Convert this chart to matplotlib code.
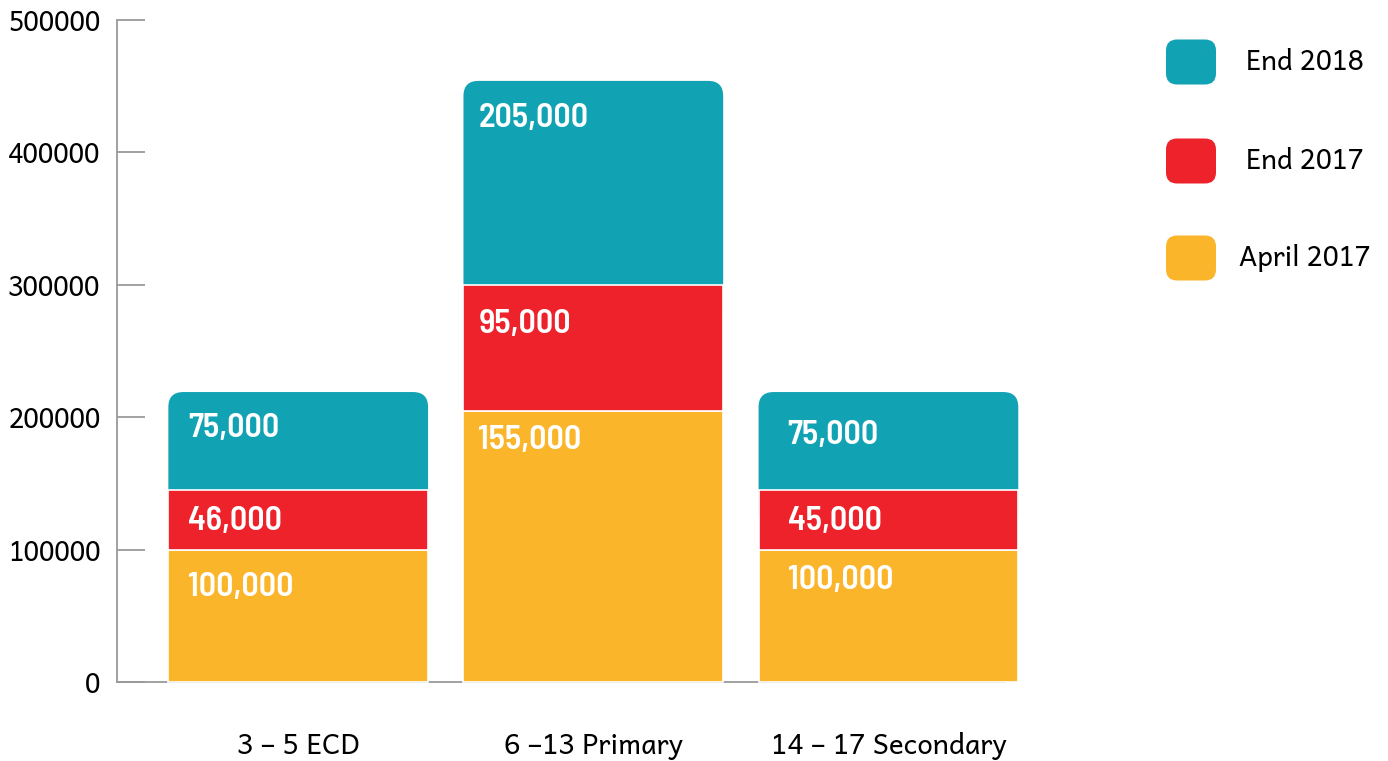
import matplotlib
matplotlib.use("Agg")
import matplotlib.pyplot as plt
from matplotlib.patches import FancyBboxPatch
import matplotlib.transforms as mtransforms

# ---- data ----
categories = ["3 \u2013 5 ECD", "6 \u201313 Primary", "14 \u2013 17 Secondary"]
series_names = ["April 2017", "End 2017", "End 2018"]
april_2017 = [100000, 205000, 100000]
end_2017 = [45000, 95000, 45000]
end_2018 = [74000, 154000, 74000]
april_labels = ["100,000", "155,000", "100,000"]
end2017_labels = ["46,000", "95,000", "45,000"]
end2018_labels = ["75,000", "205,000", "75,000"]
y_ticks = [0, 100000, 200000, 300000, 400000, 500000]

colors = {"April 2017": "#FBB52B", "End 2017": "#EE222A", "End 2018": "#11A3B4"}

TEXT_FONT = ["Andika", "Lato", "DejaVu Sans"]
NUM_FONT = ["Barlow Semi Condensed", "Barlow Condensed", "Oswald", "DejaVu Sans"]

W, H, DPI = 1388, 761, 100
fig = plt.figure(figsize=(W / DPI, H / DPI), dpi=DPI)
ax = fig.add_axes([117 / W, 79 / H, 888 / W, 662 / H])

x = [0, 1, 2]
bw = 0.88
ax.set_xlim(-0.614, 2.395)
ax.set_ylim(0, 500000)

# lower segments
bottoms = [0, 0, 0]
for vals, name in [(april_2017, "April 2017"), (end_2017, "End 2017")]:
    ax.bar(x, vals, bw, bottom=bottoms, color=colors[name], edgecolor="white",
           linewidth=1.2, zorder=3, clip_on=False)
    bottoms = [b + v for b, v in zip(bottoms, vals)]

# top segment with rounded upper corners
px_x = 295.0           # pixels per x unit
px_y = 662.0 / 500000  # pixels per y unit
r_px = 15
r_x = r_px / px_x
aspect = (1 / px_y) / (1 / px_x)
ext = 30000
for xi, b, v in zip(x, bottoms, end_2018):
    p = FancyBboxPatch((xi - bw / 2, b - ext), bw, v + ext,
                       boxstyle=f"round,pad=0,rounding_size={r_x}",
                       mutation_aspect=aspect,
                       facecolor=colors["End 2018"], edgecolor="none",
                       zorder=2, clip_on=False)
    ax.add_patch(p)

# labels
label_font = dict(family=NUM_FONT, fontweight="semibold",
                  fontsize=24.5, color="white", va="center", ha="left", zorder=5)
x_off = [20, 15, 29]
offs = {
    "April 2017": [-38, -30, -31],
    "End 2017": [-31, -40, -31],
    "End 2018": [-36, -38, -43],
}
tops_april = april_2017
tops_2017 = [a + b for a, b in zip(april_2017, end_2017)]
tops_2018 = [a + b for a, b in zip(tops_2017, end_2018)]
for name, tops, labs in [("April 2017", tops_april, april_labels),
                         ("End 2017", tops_2017, end2017_labels),
                         ("End 2018", tops_2018, end2018_labels)]:
    for i, (t, lab) in enumerate(zip(tops, labs)):
        tr = mtransforms.offset_copy(ax.transData, fig=fig, x=x_off[i], y=offs[name][i],
                                     units="dots")
        ax.text(x[i] - bw / 2, t, lab, transform=tr, **label_font)

# axes styling
for s in ["top", "right"]:
    ax.spines[s].set_visible(False)
for s in ["left", "bottom"]:
    ax.spines[s].set_color("#9a9a9a")
    ax.spines[s].set_linewidth(1.3)
ax.set_yticks(y_ticks)
ax.set_yticklabels([str(v) for v in y_ticks], fontsize=19, family=TEXT_FONT)
ax.tick_params(axis="y", direction="in", length=28 * 72 / DPI, width=1.3,
               color="#9a9a9a", pad=12)
ax.set_xticks(x)
ax.set_xticklabels(categories, fontsize=20, family=TEXT_FONT)
ax.tick_params(axis="x", length=0, pad=36)
ax.set_facecolor("none")

# legend
lax = fig.add_axes([0, 0, 1, 1])
lax.set_xlim(0, W)
lax.set_ylim(H, 0)
lax.axis("off")
legend_rows = [("End 2018", 62), ("End 2017", 161), ("April 2017", 258)]
for name, cy in legend_rows:
    box = FancyBboxPatch((1166, cy - 22.5), 50, 45,
                         boxstyle="round,pad=0,rounding_size=11",
                         facecolor=colors[name], edgecolor="none")
    lax.add_patch(box)
    lax.text(1305, cy, name, ha="center", va="center", fontsize=19.5, family=TEXT_FONT)

fig.savefig("out.png", dpi=DPI)
